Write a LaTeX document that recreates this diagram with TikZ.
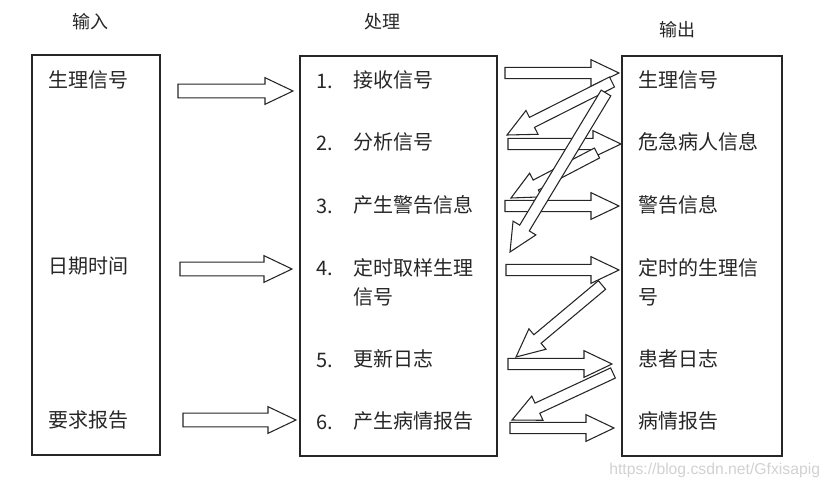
\documentclass[tikz,border=0pt]{standalone}
\usepackage{fontspec}
\setmainfont{Noto Sans CJK SC}
\newfontfamily\urlfont{Liberation Sans}
\usetikzlibrary{calc, positioning}

% hollow block arrow from #2 to #3, #1 = half shaft width
\newcommand{\hollowarrow}[3][4.2pt]{%
  \coordinate (hb) at ($(#3)!21pt!(#2)$);
  \draw[fatarrow] ($(#2)!#1!90:(#3)$) -- ($(hb)!#1!-90:(#2)$) -- ($(hb)!10pt!-90:(#2)$)
    -- (#3) -- ($(hb)!10pt!90:(#2)$) -- ($(hb)!#1!90:(#2)$) -- ($(#2)!#1!-90:(#3)$) -- cycle;}

\begin{document}
\begin{tikzpicture}[x=0.75pt, y=-0.75pt]
		\tikzstyle{panel} = [draw=black!85, line width=0.8pt, inner sep=0pt]
		\tikzstyle{head} = [font=\fontsize{13.5}{16}\selectfont, text=black!85]
		\tikzstyle{item} = [anchor=west, inner sep=0pt, font=\fontsize{15}{21.75}\selectfont, text=black!85]
		\tikzstyle{fatarrow} = [draw=black!85, line width=0.8pt, fill=white, line join=miter]
		
		\useasboundingbox (0,0) rectangle (828,489);
		
		\node[panel, minimum width=96pt, minimum height=300pt] 	at (96, 255) 	(inbox) 	{};
		\node[panel, minimum width=147.75pt, minimum height=300pt] 	at (398.5, 256) 	(procbox) 	{};
		\node[panel, minimum width=120pt, minimum height=300pt] 	at (702, 256) 	(outbox) 	{};
		
		\node[head] 	at (90, 22) 		(hin) 	{输入};
		\node[head] 	at (382, 22) 		(hproc) 	{处理};
		\node[head] 	at (677, 30) 		(hout) 	{输出};
		
		% input
		\node[item] 	at (48, 80) 		(in1) 	{生理信号};
		\node[item] 	at (48, 266) 		(in2) 	{日期时间};
		\node[item] 	at (48, 420) 		(in3) 	{要求报告};
		
		% process
		\node[item] 	at (316, 81) 		(n1) 	{1.};
		\node[item] 	at (316, 143) 		(n2) 	{2.};
		\node[item] 	at (316, 206) 		(n3) 	{3.};
		\node[item] 	at (316, 268) 		(n4) 	{4.};
		\node[item] 	at (316, 360) 		(n5) 	{5.};
		\node[item] 	at (316, 422) 		(n6) 	{6.};
		\node[item] 	at (353, 80) 		(p1) 	{接收信号};
		\node[item] 	at (353, 142) 		(p2) 	{分析信号};
		\node[item] 	at (353, 205) 		(p3) 	{产生警告信息};
		\node[item, anchor=north west, align=left] 	at (353, 258) 	(p4) 	{定时取样生理\\信号};
		\node[item] 	at (353, 359) 		(p5) 	{更新日志};
		\node[item] 	at (353, 421) 		(p6) 	{产生病情报告};
		
		% output
		\node[item] 	at (638, 80) 		(o1) 	{生理信号};
		\node[item] 	at (638, 142) 		(o2) 	{危急病人信息};
		\node[item] 	at (638, 205) 		(o3) 	{警告信息};
		\node[item, anchor=north west, align=left] 	at (638, 258) 	(o4) 	{定时的生理信\\号};
		\node[item] 	at (638, 359) 		(o5) 	{患者日志};
		\node[item] 	at (638, 421) 		(o6) 	{病情报告};
		
		\node[anchor=west, inner sep=0pt, text=black!18, font=\urlfont\fontsize{11.8}{14}\selectfont] at (609, 470) (mark) {https://blog.csdn.net/Gfxisapig};
		
		% arrow ends
		\coordinate (a1s) at (178, 91); 	\coordinate (a1e) at (293, 91);
		\coordinate (a2s) at (180, 269); 	\coordinate (a2e) at (292, 269);
		\coordinate (a3s) at (183, 420); 	\coordinate (a3e) at (296, 420);
		\coordinate (f1s) at (505, 73); 	\coordinate (f1e) at (619, 73);
		\coordinate (f2s) at (508, 144); 	\coordinate (f2e) at (621, 144);
		\coordinate (f3s) at (505, 206); 	\coordinate (f3e) at (619, 206);
		\coordinate (f4s) at (506, 270); 	\coordinate (f4e) at (619, 270);
		\coordinate (f5s) at (508, 364); 	\coordinate (f5e) at (612, 364);
		\coordinate (f6s) at (510, 428); 	\coordinate (f6e) at (614, 428);
		\coordinate (b1s) at (612, 82); 	\coordinate (b1e) at (507, 135);
		\coordinate (b2s) at (606, 93); 	\coordinate (b2e) at (510, 252);
		\coordinate (b3s) at (597, 153); 	\coordinate (b3e) at (511, 198);
		\coordinate (b4s) at (602, 285); 	\coordinate (b4e) at (516, 357);
		\coordinate (b5s) at (613, 373); 	\coordinate (b5e) at (512, 420);
		
		\hollowarrow[5.2pt]{a1s}{a1e}
		\hollowarrow[5.2pt]{a2s}{a2e}
		\hollowarrow[5.2pt]{a3s}{a3e}
		\hollowarrow{f1s}{f1e}
		\hollowarrow{f2s}{f2e}
		\hollowarrow{f3s}{f3e}
		\hollowarrow{f4s}{f4e}
		\hollowarrow{f5s}{f5e}
		\hollowarrow{f6s}{f6e}
		\hollowarrow{b1s}{b1e}
		\hollowarrow{b3s}{b3e}
		\hollowarrow{b2s}{b2e}
		\hollowarrow{b4s}{b4e}
		\hollowarrow{b5s}{b5e}
	\end{tikzpicture}
\end{document}
